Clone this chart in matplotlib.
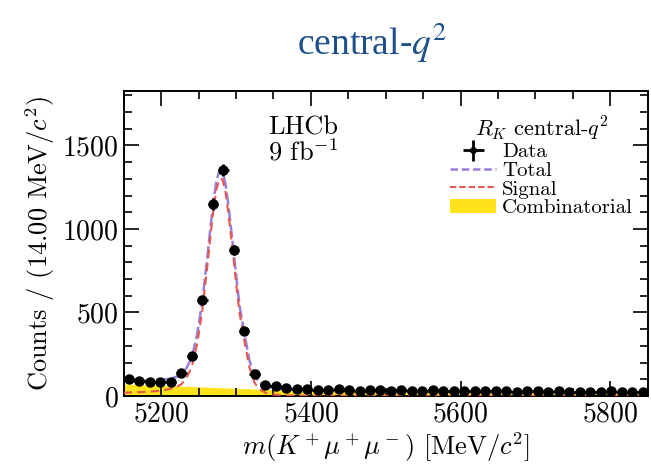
import matplotlib
matplotlib.use("Agg")
import matplotlib.pyplot as plt
import numpy as np
from matplotlib.ticker import MultipleLocator
from matplotlib.patches import Patch

plt.rcParams['mathtext.fontset'] = 'cm'
plt.rcParams['font.family'] = ['cmr10', 'DejaVu Serif']
plt.rcParams['axes.formatter.use_mathtext'] = True

# data: 50 bins of 14 MeV from 5150 to 5850
bin_edges_lo = 5150
bin_width = 14
counts = [104, 92, 86, 83, 84, 138, 240, 572, 1150, 1352,
          872, 390, 134, 66, 58, 48, 42, 40, 38, 36,
          40, 34, 30, 33, 35, 32, 34, 30, 31, 33,
          28, 30, 32, 29, 27, 30, 28, 26, 29, 27,
          25, 28, 24, 26, 23, 25, 27, 22, 24, 21]

# fit components (counts per bin)
sig_mass = [5150, 5165, 5180, 5195, 5205, 5215, 5221, 5227, 5234, 5241,
            5248, 5255, 5262, 5269, 5274, 5278, 5282, 5286, 5290, 5294,
            5297, 5301, 5305, 5311, 5318, 5325, 5332, 5340, 5350, 5365,
            5400, 5500, 5850]
sig_vals = [20, 22, 25, 30, 36, 46, 56, 70, 110, 175,
            310, 510, 790, 1085, 1240, 1300, 1295, 1220, 1090, 930,
            810, 640, 490, 335, 170, 78, 38, 18, 9, 4,
            1.5, 0.5, 0]

comb_mass = [5150, 5200, 5250, 5300, 5350, 5400, 5500, 5600, 5700, 5800, 5850]
comb_vals = [72, 64, 55, 46, 38, 33, 28, 24, 21, 19, 18]

centers = bin_edges_lo + bin_width * (np.arange(len(counts)) + 0.5)
counts = np.array(counts)

fig = plt.figure(figsize=(6.51, 4.72), dpi=100)
ax = fig.add_axes([0.190, 0.161, 0.805, 0.646])

# combinatorial fill
ax.fill_between(comb_mass, 0, comb_vals, color='#ffe21a', lw=0, zorder=1)

# total = signal + combinatorial on the signal grid
comb_on_sig = np.interp(sig_mass, comb_mass, comb_vals)
total_vals = np.array(sig_vals) + comb_on_sig
ax.plot(sig_mass, total_vals, color='#9b7fd6', lw=1.8, ls=(0, (5, 1.5)), zorder=2)
ax.plot(sig_mass, sig_vals, color='#e8574f', lw=1.5, ls=(0, (4, 2.5)), zorder=3)

ax.errorbar(centers, counts, xerr=bin_width / 2, yerr=np.sqrt(counts),
            fmt='o', color='black', ms=6.5, elinewidth=2.0, capsize=0, zorder=4)

ax.set_xlim(5150, 5850)
ax.set_ylim(0, 1825)
ax.xaxis.set_major_locator(MultipleLocator(200))
ax.xaxis.set_minor_locator(MultipleLocator(50))
ax.yaxis.set_major_locator(MultipleLocator(500))
ax.yaxis.set_minor_locator(MultipleLocator(100))
ax.tick_params(which='both', direction='in', top=True, right=True, labelsize=20, width=1.2)
ax.tick_params(which='major', length=11)
ax.tick_params(which='minor', length=6)
for s in ax.spines.values():
    s.set_linewidth(1.4)

ax.set_xlabel(r'$m(K^+\mu^+\mu^-)$ [MeV/$c^2$]', fontsize=19, labelpad=2)
ax.set_ylabel(r'Counts / (14.00 MeV/$c^2$)', fontsize=19, labelpad=4)

ax.text(0.275, 0.92, 'LHCb\n9 fb$^{-1}$', transform=ax.transAxes, fontsize=19,
        va='top', ha='left', linespacing=1.0)

handles = [ax.errorbar([], [], xerr=1, yerr=1, fmt='o', color='black', ms=4,
                       elinewidth=2.0, capsize=0),
           plt.Line2D([], [], color='#9b7fd6', lw=1.8, ls=(0, (3, 1.5))),
           plt.Line2D([], [], color='#e8574f', lw=1.5, ls=(0, (3, 1.5))),
           Patch(facecolor='#ffe21a', edgecolor='none')]
labels = ['Data', 'Total', 'Signal', 'Combinatorial']
leg = ax.legend(handles, labels, loc='upper right', bbox_to_anchor=(1.0, 0.97),
                frameon=False, fontsize=15, title=r'$R_K$ central-$q^2$',
                title_fontsize=16, handlelength=2.2, handletextpad=0.3,
                labelspacing=0.0, borderpad=0.2)

fig.text(0.572, 0.91, r'central-$q^2$', fontsize=27, color='#1d4f8a',
         ha='center', va='center', family='Liberation Serif',
         math_fontfamily='stix')

fig.savefig('out.png', dpi=100)
